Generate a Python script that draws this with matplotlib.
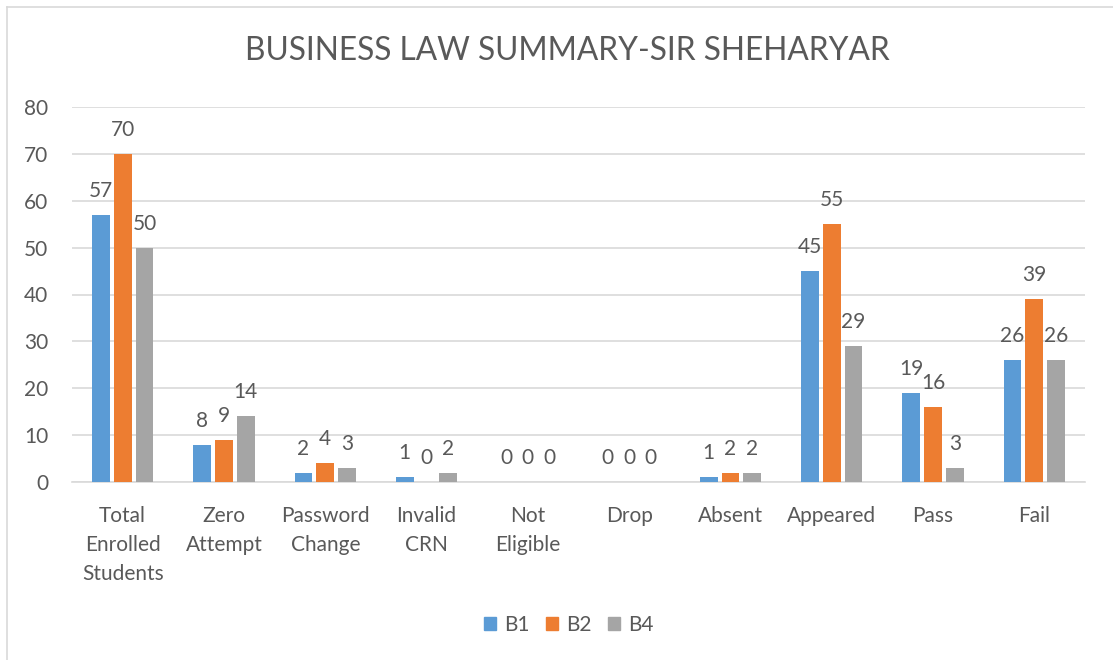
import matplotlib
matplotlib.use("Agg")
import matplotlib.pyplot as plt
import numpy as np
from matplotlib.lines import Line2D
from matplotlib.patches import Patch

categories = ["Total\nEnrolled\nStudents", "Zero\nAttempt", "Password\nChange", "Invalid\nCRN",
              "Not\nEligible", "Drop", "Absent", "Appeared", "Pass", "Fail"]
series_names = ["B1", "B2", "B4"]
b1 = [57, 8, 2, 1, 0, 0, 1, 45, 19, 26]
b2 = [70, 9, 4, 0, 0, 0, 2, 55, 16, 39]
b4 = [50, 14, 3, 2, 0, 0, 2, 29, 3, 26]
yticks = [0, 10, 20, 30, 40, 50, 60, 70, 80]

colors = ["#5B9BD5", "#ED7D31", "#A5A5A5"]
txt = "#595959"
font = "Lato"
plt.rcParams['font.family'] = [font, 'DejaVu Sans']
fs = 15

W, H = 1113, 660
fig = plt.figure(figsize=(W / 100, H / 100), dpi=100)
ax = fig.add_axes([72 / W, (H - 482) / H, (1085 - 72) / W, (482 - 107) / H])

x = np.arange(len(categories))
bw = 0.175
offs = [-0.215, 0, 0.215]
for vals, off, c, name in zip([b1, b2, b4], offs, colors, series_names):
    ax.bar(x + off, vals, width=bw, color=c, label=name, zorder=3)
    for xi, v in zip(x + off, vals):
        ax.annotate(str(v), (xi, v), xytext=(0, 10), textcoords="offset points",
                    ha="center", va="bottom", fontsize=fs, color=txt)

ax.set_xlim(-0.5, len(categories) - 0.5)
ax.set_ylim(0, 80)
ax.set_yticks(yticks)
ax.set_yticklabels([str(t) for t in yticks], fontsize=fs, color=txt)
ax.yaxis.grid(True, color="#D9D9D9", linewidth=1.2, zorder=0)
ax.set_axisbelow(True)
ax.tick_params(axis="y", length=0, pad=17)
ax.tick_params(axis="x", length=0, pad=17)
ax.set_xticks(x)
ax.set_xticklabels(categories, fontsize=fs, color=txt, linespacing=1.58, va="top")
for s in ["top", "right", "left"]:
    ax.spines[s].set_visible(False)
ax.spines["bottom"].set_color("#D9D9D9")
ax.spines["bottom"].set_linewidth(1.2)

fig.text(567 / W, (H - 51) / H, "BUSINESS LAW SUMMARY-SIR SHEHARYAR", ha="center", va="center",
         fontsize=22.8, color=txt)

handles = [Patch(color=c) for c in colors]
fig.legend(handles, series_names, loc="center", bbox_to_anchor=(569 / W, (H - 625) / H),
           ncol=3, frameon=False, fontsize=fs, labelcolor=txt, handlelength=0.55,
           handleheight=0.55, handletextpad=0.4, columnspacing=0.8)

# chart border (left and top visible)
fig.add_artist(Line2D([7 / W, 7 / W], [0, (H - 7) / H], color="#D9D9D9", linewidth=1.2))
fig.add_artist(Line2D([7 / W, 1], [(H - 7) / H, (H - 7) / H], color="#D9D9D9", linewidth=1.2))

fig.savefig("out.png", dpi=100, facecolor="white")
